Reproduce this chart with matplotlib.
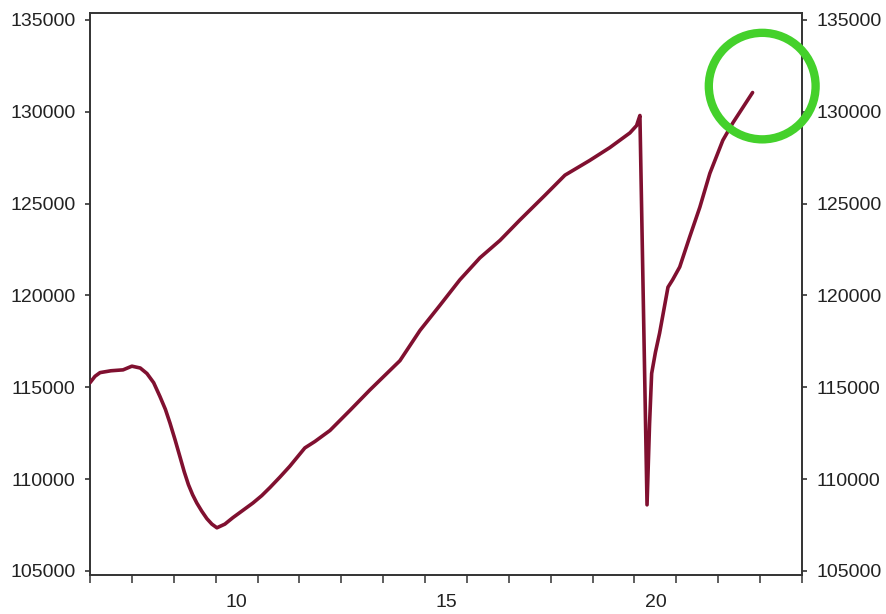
import matplotlib
matplotlib.use("Agg")
import matplotlib.pyplot as plt
from matplotlib.patches import Ellipse
from matplotlib.ticker import FixedLocator, FuncFormatter

# ---- data ----
x_vals = [6.50, 6.62, 6.74, 7.00, 7.29, 7.50, 7.70, 7.86, 8.02, 8.17, 8.30, 8.41,
          8.53, 8.65, 8.75, 8.85, 8.95, 9.05, 9.17, 9.29, 9.41, 9.53, 9.72, 9.91,
          10.15, 10.39, 10.60, 10.80, 11.03, 11.27, 11.63, 11.87, 12.23, 12.71,
          13.18, 13.54, 13.90, 14.38, 14.85, 15.33, 15.81, 16.29, 16.76, 17.36,
          17.84, 18.43, 18.91, 19.39, 19.55, 19.63, 19.80, 19.86, 19.91, 20.00,
          20.10, 20.30, 20.41, 20.58, 20.82, 21.06, 21.30, 21.61, 21.85, 22.32]
y_vals = [115250, 115600, 115800, 115900, 115950, 116150, 116050, 115750, 115250,
          114500, 113800, 113050, 112150, 111200, 110400, 109700, 109150, 108700,
          108250, 107850, 107550, 107350, 107550, 107900, 108300, 108700, 109100,
          109550, 110100, 110700, 111700, 112050, 112650, 113750, 114850, 115650,
          116450, 118100, 119450, 120850, 122050, 123000, 124100, 125450, 126550,
          127350, 128050, 128850, 129250, 129800, 108600, 113000, 115750, 116900,
          117950, 120450, 120850, 121550, 123200, 124800, 126650, 128450, 129400,
          131050]

y_ticks = [105000, 110000, 115000, 120000, 125000, 130000, 135000]
x_label_ticks = [10, 15, 20]
x_minor_ticks = [v + 0.5 for v in range(6, 24)]
x_limits = (6.5, 23.5)
y_limits = (104780, 135380)

# annotation circle (hand-drawn green circle)
circle_center = (22.55, 131400)
circle_size = (2.55, 5800)

# ---- styling ----
line_color = "#801030"
axis_color = "#333333"
text_color = "#222222"
circle_color = "#44d12b"

plt.rcParams['font.family'] = ['Liberation Sans', 'DejaVu Sans']

fig = plt.figure(figsize=(8.86, 6.14), dpi=100)
ax = fig.add_axes([90/886, 39/614, 712/886, 562/614])

ax.plot(x_vals, y_vals, color=line_color, lw=2.6, solid_joinstyle='round',
        solid_capstyle='round', zorder=3)

ax.set_xlim(*x_limits)
ax.set_ylim(*y_limits)

for s in ax.spines.values():
    s.set_color(axis_color)
    s.set_linewidth(1.4)

# y ticks on both sides
ax.set_yticks(y_ticks)
ax.yaxis.set_major_formatter(FuncFormatter(lambda v, p: f"{int(v)}"))
ax.tick_params(axis='y', which='major', left=True, right=True, labelleft=True,
               labelright=True, direction='out', length=3.5, width=1.2,
               pad=7, colors=axis_color, labelcolor=text_color, labelsize=14)

# x: labels without tick marks, minor tick marks at half positions
ax.xaxis.set_major_locator(FixedLocator(x_label_ticks))
ax.xaxis.set_minor_locator(FixedLocator(x_minor_ticks))
ax.tick_params(axis='x', which='major', length=0, pad=14,
               labelcolor=text_color, labelsize=14)
ax.tick_params(axis='x', which='minor', length=6, width=1.1, direction='out',
               colors=axis_color)

ell = Ellipse(circle_center, circle_size[0], circle_size[1], fill=False,
              edgecolor=circle_color, lw=6, clip_on=False, zorder=5)
ax.add_patch(ell)

fig.savefig("out.png", dpi=100)
